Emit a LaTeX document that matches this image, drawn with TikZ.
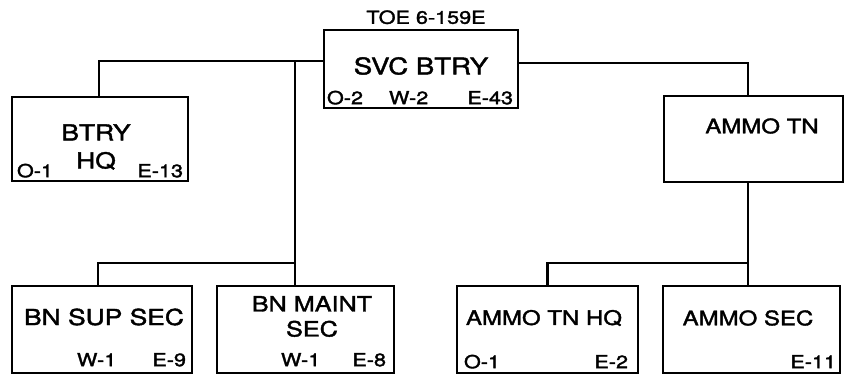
\documentclass[tikz,border=0pt]{standalone}
\usepackage{fontspec}
\setmainfont{TeX Gyre Heros}[FakeStretch=1.2, FakeBold=1.8]
\usetikzlibrary{positioning}

\begin{document}
\begin{tikzpicture}[
  x=1pt, y=1pt,
  every node/.style={font=\fontsize{18}{21}\selectfont},
  box/.style={draw, line width=2.4pt, minimum height=87pt, inner sep=0pt},
  unit/.style={font=\fontsize{22}{28}\selectfont, align=center, inner sep=0pt},
  ammo/.style={unit, font=\fontsize{20}{24}\selectfont},
  tag/.style={inner sep=0pt},
  wire/.style={line width=2.4pt}
]
\useasboundingbox (0,0) rectangle (845,389);

% boxes
\node[box, minimum width=194pt, minimum height=78pt] (svc) at (421,320) {};
\node[box, minimum width=176pt, minimum height=84pt] (hq) at (100,250) {};
\node[box, minimum width=179pt, minimum height=86pt] (tn) at (753.5,250) {};
\node[box, minimum width=180pt] (sup) at (102,59.5) {};
\node[box, minimum width=177pt] (maint) at (305.5,59.5) {};
\node[box, minimum width=181pt] (tnhq) at (547.5,59.5) {};
\node[box, minimum width=177pt] (ammo) at (751.5,59.5) {};

% names
\node[tag, anchor=base] (toe) at ([shift={(5,5)}]svc.north) {TOE 6-159E};
\node[unit, font=\fontsize{23}{28}\selectfont] (svcname) at ([shift={(0,3)}]svc.center) {SVC BTRY};
\node[unit] (hqname) at ([shift={(-4,-8)}]hq.center) {BTRY\\HQ};
\node[ammo] (tnname) at ([shift={(8.5,13)}]tn.center) {AMMO TN};
\node[unit] (supname) at ([shift={(2,12.5)}]sup.center) {BN SUP SEC};
\node[unit, font=\fontsize{21}{25}\selectfont] (maintname) at ([shift={(6.5,13)}]maint.center) {BN MAINT\\SEC};
\node[ammo] (tnhqname) at ([shift={(-3.5,11.5)}]tnhq.center) {AMMO TN HQ};
\node[ammo] (ammoname) at ([shift={(-3.5,11.5)}]ammo.center) {AMMO SEC};

% strengths
\node[tag, anchor=base west] (svco) at ([shift={(4,5)}]svc.south west) {O-2};
\node[tag, anchor=base west] (svcw) at ([shift={(66,5)}]svc.south west) {W-2};
\node[tag, anchor=base east] (svce) at ([shift={(-6,5)}]svc.south east) {E-43};
\node[tag, anchor=base west] (hqo) at ([shift={(6,5)}]hq.south west) {O-1};
\node[tag, anchor=base east] (hqe) at ([shift={(-6,5)}]hq.south east) {E-13};
\node[tag, anchor=base west] (supw) at ([shift={(66,8)}]sup.south west) {W-1};
\node[tag, anchor=base east] (supe) at ([shift={(-7,8)}]sup.south east) {E-9};
\node[tag, anchor=base west] (maintw) at ([shift={(65,8)}]maint.south west) {W-1};
\node[tag, anchor=base east] (mainte) at ([shift={(-9,8)}]maint.south east) {E-8};
\node[tag, anchor=base west] (tnhqo) at ([shift={(8,6)}]tnhq.south west) {O-1};
\node[tag, anchor=base east] (tnhqe) at ([shift={(-11,6)}]tnhq.south east) {E-2};
\node[tag, anchor=base east] (ammoe) at ([shift={(-5,6)}]ammo.south east) {E-11};

% connectors
\coordinate (lsplit) at (295,328);
\coordinate (lbus) at (295,126);
\coordinate (rbus) at (748,126);
\draw[wire] ([yshift=8pt]svc.west) -| ([xshift=-1pt]hq.north);
\draw[wire] ([yshift=6pt]svc.east) -| ([xshift=-5.5pt]tn.north);
\draw[wire] (lsplit) -- ([xshift=-10.5pt]maint.north);
\draw[wire] (lbus) -| ([xshift=-4pt]sup.north);
\draw[wire] ([xshift=-5.5pt]tn.south) -- ([xshift=-3.5pt]ammo.north);
\draw[wire] (rbus) -| (tnhq.north);
\end{tikzpicture}
\end{document}
